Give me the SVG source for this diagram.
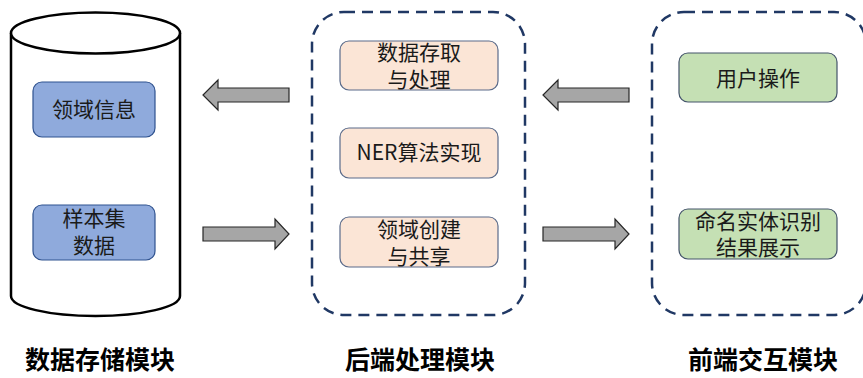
<svg xmlns="http://www.w3.org/2000/svg" width="863" height="378" viewBox="0 0 863 378">
<style>
.t{font-family:"Noto Sans CJK SC","Noto Sans",sans-serif;font-size:21px;fill:#1a1a1a;text-anchor:middle}
.h{font-family:"Noto Sans CJK SC",sans-serif;font-size:25px;font-weight:bold;fill:#000;text-anchor:middle}
.blue{fill:#8FAADC;stroke:#2F528F;stroke-width:1.2}
.org{fill:#FBE5D6;stroke:#5B6B8A;stroke-width:1.2}
.grn{fill:#C5E0B4;stroke:#44546A;stroke-width:1.2}
.dash{fill:none;stroke:#203864;stroke-width:2.5;stroke-dasharray:11 7}
.arr{fill:#A6A6A6;stroke:#262626;stroke-width:1.2}
</style>
<rect width="863" height="378" fill="#fff"/>
<g id="storage">
<path d="M11,33 L11,296 A84.5,20 0 0 0 180,296 L180,33" fill="#fff" stroke="#000" stroke-width="2.5"/>
<ellipse cx="95.5" cy="33" rx="84.5" ry="20.5" fill="#fff" stroke="#000" stroke-width="2.5"/>
</g>
<g id="domain-info">
<rect class="blue" x="33" y="82" width="122" height="55" rx="9"/>
<text class="t" x="94" y="117">领域信息</text>
</g>
<g id="sample-data">
<rect class="blue" x="33" y="205" width="122" height="55" rx="9"/>
<text class="t" x="94" y="226">样本集</text>
<text class="t" x="94" y="253">数据</text>
</g>
<g id="backend">
<rect class="dash" x="312" y="12" width="213" height="303" rx="32"/>
</g>
<g id="data-access">
<rect class="org" x="340" y="41" width="158" height="49" rx="9"/>
<text class="t" x="419" y="60">数据存取</text>
<text class="t" x="419" y="87">与处理</text>
</g>
<g id="ner">
<rect class="org" x="340" y="128" width="158" height="50" rx="9"/>
<text class="t" x="419" y="160">NER算法实现</text>
</g>
<g id="domain-create">
<rect class="org" x="340" y="217" width="158" height="50" rx="9"/>
<text class="t" x="419" y="237">领域创建</text>
<text class="t" x="419" y="264">与共享</text>
</g>
<g id="frontend">
<rect class="dash" x="652" y="12" width="214" height="303" rx="32"/>
</g>
<g id="user-op">
<rect class="grn" x="679" y="53" width="158" height="49" rx="9"/>
<text class="t" x="758" y="86">用户操作</text>
</g>
<g id="ner-result">
<rect class="grn" x="679" y="209" width="158" height="50" rx="9"/>
<text class="t" x="758" y="229">命名实体识别</text>
<text class="t" x="758" y="255">结果展示</text>
</g>
<g id="connectors">
<polygon class="arr" points="289,88 218,88 218,80 203,95 218,110 218,102 289,102"/>
<polygon class="arr" points="203,227 275,227 275,219 289,234 275,249 275,241 203,241"/>
<polygon class="arr" points="629,88 558,88 558,80 543,95 558,110 558,102 629,102"/>
<polygon class="arr" points="543,227 615,227 615,219 629,234 615,249 615,241 543,241"/>
</g>
<g id="labels">
<text class="h" x="100" y="369">数据存储模块</text>
<text class="h" x="420" y="369">后端处理模块</text>
<text class="h" x="763" y="369">前端交互模块</text>
</g>
</svg>
